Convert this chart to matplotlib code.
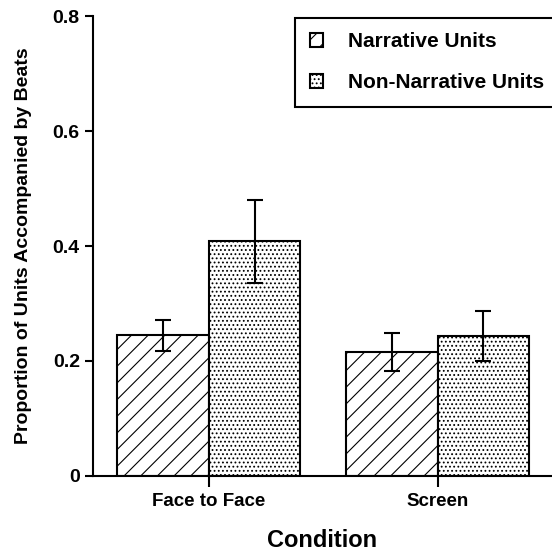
import matplotlib.pyplot as plt
import numpy as np

plt.rcParams['font.family'] = ['Liberation Sans', 'DejaVu Sans']
plt.rcParams['font.weight'] = 'bold'
plt.rcParams['axes.labelweight'] = 'bold'
plt.rcParams['hatch.linewidth'] = 0.8

conditions = ['Face to Face', 'Screen']
narrative = [0.245, 0.215]
narrative_err_lo = [0.027, 0.033]
narrative_err_hi = [0.027, 0.033]
non_narrative = [0.409, 0.244]
non_narrative_err_lo = [0.073, 0.044]
non_narrative_err_hi = [0.071, 0.043]

fig = plt.figure(figsize=(5.52, 5.56), dpi=100)
ax = fig.add_axes([0.1685, 0.1439, 0.8315, 0.8273])

x = np.arange(len(conditions))
w = 0.4
ax.bar(x - w / 2, narrative, w, color='white', edgecolor='black', linewidth=1.5,
       hatch='//', label='Narrative Units')
ax.bar(x + w / 2, non_narrative, w, color='white', edgecolor='black', linewidth=1.5,
       hatch='....', label='Non-Narrative Units')
ax.errorbar(x - w / 2, narrative, yerr=[narrative_err_lo, narrative_err_hi], fmt='none',
            ecolor='black', elinewidth=1.5, capsize=5.5, capthick=1.5)
ax.errorbar(x + w / 2, non_narrative, yerr=[non_narrative_err_lo, non_narrative_err_hi],
            fmt='none', ecolor='black', elinewidth=1.5, capsize=5.5, capthick=1.5)

ax.set_xlim(-0.507, 1.5)
ax.set_ylim(0, 0.8)
ax.set_yticks([0, 0.2, 0.4, 0.6, 0.8])
ax.set_yticklabels(['0', '0.2', '0.4', '0.6', '0.8'])
ax.set_xticks(x)
ax.set_xticklabels(conditions)
for s in ['top', 'right']:
    ax.spines[s].set_visible(False)
for s in ['left', 'bottom']:
    ax.spines[s].set_linewidth(1.5)
ax.tick_params(axis='y', width=1.5, length=6, labelsize=14)
ax.tick_params(axis='x', width=1.5, length=8, pad=4, labelsize=13.5)

ax.set_ylabel('Proportion of Units Accompanied by Beats', fontsize=14, labelpad=15)
ax.set_xlabel('Condition', fontsize=17, labelpad=14)

leg = ax.legend(loc='upper right', bbox_to_anchor=(1.015, 0.996), fontsize=15,
                fancybox=False, framealpha=1, edgecolor='black',
                handlelength=0.65, handleheight=0.65, handletextpad=1.2,
                labelspacing=1.05, borderpad=0.7, borderaxespad=0)
leg.get_frame().set_linewidth(1.5)

fig.savefig('out.png', dpi=100)
